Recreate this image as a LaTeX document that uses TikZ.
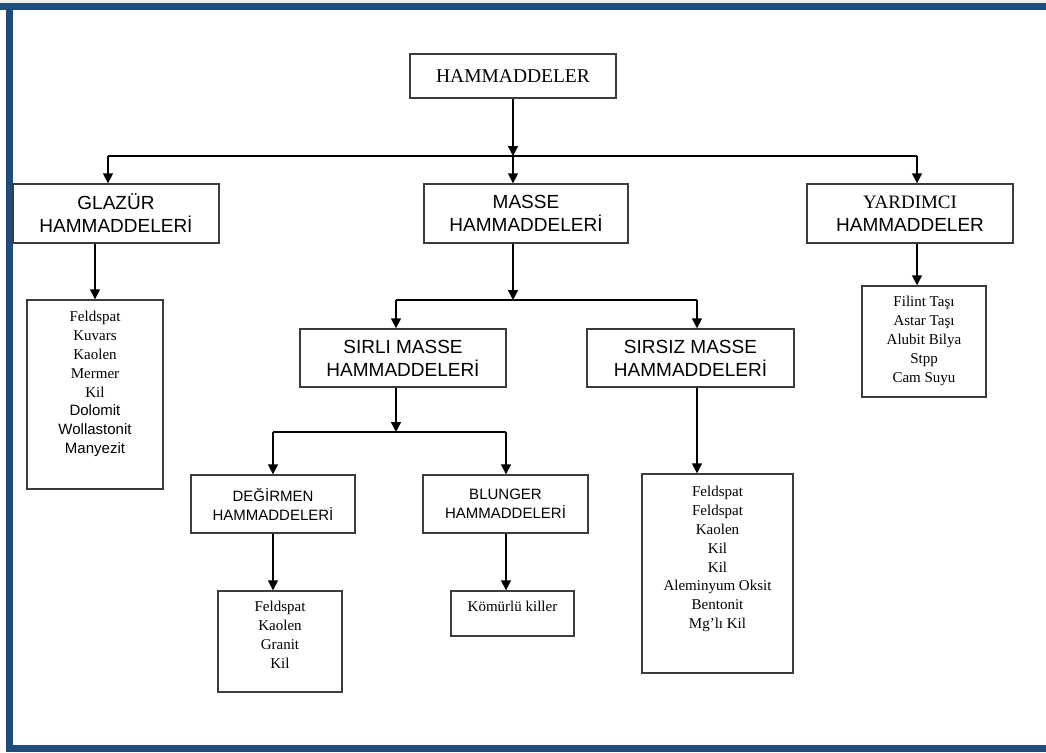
\documentclass[tikz,border=0pt]{standalone}
\usepackage{fontspec}
\setmainfont{Liberation Serif}
\setsansfont{Liberation Sans}
\usetikzlibrary{arrows.meta}
\definecolor{frameblue}{RGB}{31,75,125}
\definecolor{boxgray}{RGB}{60,60,60}
\begin{document}
\begin{tikzpicture}[x=1pt,y=-1pt,
  hbox/.style={draw=boxgray, line width=1.4pt, inner sep=0pt, align=center,
    font=\sffamily\fontsize{19}{23}\selectfont},
  sbox/.style={hbox, font=\sffamily\fontsize{15}{19}\selectfont},
  lbox/.style={draw=boxgray, line width=1.4pt, inner sep=0pt},
  ltext/.style={inner sep=0pt, align=center, anchor=north,
    font=\rmfamily\fontsize{15}{18.8}\selectfont},
  conn/.style={line width=1.6pt},
  arr/.style={conn, -{Triangle[length=10pt,width=10pt]}}]
\useasboundingbox (0,0) rectangle (1046,752);
\fill[white] (0,0) rectangle (1046,752);
\fill[gray!15] (0,0) rectangle (1046,3);
% frame
\fill[frameblue] (0,3) rectangle (1046,10.5);
\fill[frameblue] (6,3) rectangle (13,752);
\fill[frameblue] (6,745) rectangle (1046,752);

% header boxes
\node[hbox, font=\rmfamily\fontsize{19.5}{23}\selectfont, minimum width=206pt, minimum height=44pt] (ham) at (513,76) {HAMMADDELER};
\node[hbox, minimum width=206pt, minimum height=59pt] (glaz) at (116,213.5) {GLAZÜR\\HAMMADDELERİ};
\node[hbox, minimum width=204pt, minimum height=59pt] (masse) at (526,213.5) {MASSE\\HAMMADDELERİ};
\node[hbox, minimum width=206pt, minimum height=59pt] (yard) at (910,213.5) {{\rmfamily YARDIMCI}\\HAMMADDELER};
\node[hbox, minimum width=206pt, minimum height=58pt] (sirli) at (403,358) {SIRLI MASSE\\HAMMADDELERİ};
\node[hbox, minimum width=207pt, minimum height=58pt] (sirsiz) at (690.5,358) {SIRSIZ MASSE\\HAMMADDELERİ};
\node[sbox, minimum width=164pt, minimum height=58pt] (deg) at (273,504) {DEĞİRMEN\\HAMMADDELERİ};
\node[sbox, minimum width=165pt, minimum height=58pt] (blu) at (505.5,504) {BLUNGER\\HAMMADDELERİ};

% list boxes
\node[lbox, minimum width=136pt, minimum height=189pt] (glist) at (95,394.5) {};
\node[ltext] (glistt) at ([yshift=-12pt]glist.north) {Feldspat\\Kuvars\\Kaolen\\Mermer\\Kil\\{\sffamily Dolomit}\\{\sffamily Wollastonit}\\{\sffamily Manyezit}};

\node[lbox, minimum width=124pt, minimum height=111pt] (ylist) at (924,341.5) {};
\node[ltext] (ylistt) at ([yshift=-11pt]ylist.north) {Filint Taşı\\Astar Taşı\\Alubit Bilya\\Stpp\\Cam Suyu};

\node[lbox, minimum width=124pt, minimum height=101pt] (dlist) at (280,641.5) {};
\node[ltext] (dlistt) at ([yshift=-11pt]dlist.north) {Feldspat\\Kaolen\\Granit\\Kil};

\node[lbox, minimum width=123pt, minimum height=45pt] (blist) at (512.5,613.5) {};
\node[ltext] (blistt) at ([yshift=-11pt]blist.north) {Kömürlü killer};

\node[lbox, minimum width=151pt, minimum height=199pt] (slist) at (717.5,573.5) {};
\node[ltext] (slistt) at ([yshift=-13pt]slist.north) {Feldspat\\Feldspat\\Kaolen\\Kil\\Kil\\Aleminyum Oksit\\Bentonit\\Mg’lı Kil};

% junctions
\coordinate (j0) at (513,156);
\coordinate (jL) at (108,156);
\coordinate (jR) at (917,156);
\coordinate (j1) at (513,300);
\coordinate (j1L) at (396,300);
\coordinate (j1R) at (697,300);
\coordinate (j2) at (396,432);
\coordinate (j2L) at (273,432);
\coordinate (j2R) at (506,432);

% connectors
\draw[arr] (ham) -- (j0);
\draw[conn] (jL) -- (jR);
\draw[arr] (jL) -- (jL |- glaz.north);
\draw[arr] (j0) -- (j0 |- masse.north);
\draw[arr] (jR) -- (jR |- yard.north);

\draw[arr] (glaz.south -| glist.north) -- (glist.north);
\draw[arr] (jR |- yard.south) -- (jR |- ylist.north);

\draw[arr] (j1 |- masse.south) -- (j1);
\draw[conn] (j1L) -- (j1R);
\draw[arr] (j1L) -- (j1L |- sirli.north);
\draw[arr] (j1R) -- (j1R |- sirsiz.north);

\draw[arr] (j2 |- sirli.south) -- (j2);
\draw[conn] (j2L) -- (j2R);
\draw[arr] (j2L) -- (j2L |- deg.north);
\draw[arr] (j2R) -- (j2R |- blu.north);

\draw[arr] (j2L |- deg.south) -- (j2L |- dlist.north);
\draw[arr] (j2R |- blu.south) -- (j2R |- blist.north);
\draw[arr] (j1R |- sirsiz.south) -- (j1R |- slist.north);
\end{tikzpicture}
\end{document}
